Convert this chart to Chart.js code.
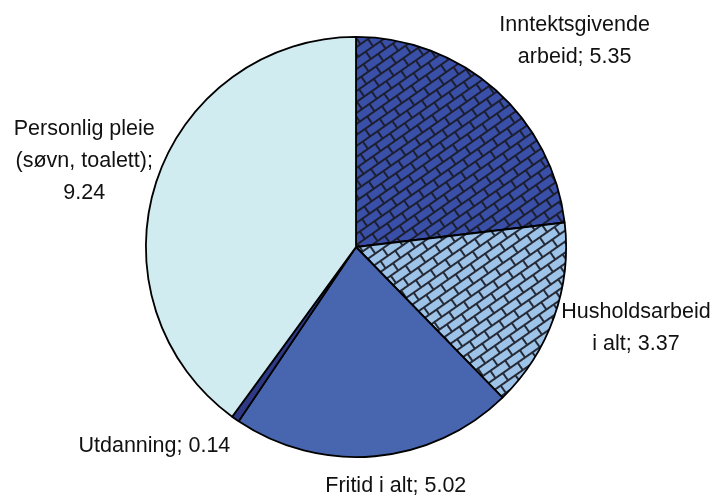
<!DOCTYPE html>
<html>
<head>
<meta charset="utf-8">
<script src="https://cdn.jsdelivr.net/npm/chart.js@4"></script>
<style>
  html, body { margin: 0; padding: 0; background: #ffffff; }
  #wrap { width: 715px; height: 498px; position: relative; }
</style>
</head>
<body>
<div id="wrap"><canvas id="c" width="715" height="498"></canvas></div>
<script>
// ---- data ----
const categories = ['Inntektsgivende\narbeid', 'Husholdsarbeid\ni alt', 'Fritid i alt', 'Utdanning', 'Personlig pleie\n(søvn, toalett)'];
const values = [5.35, 3.37, 5.02, 0.14, 9.24];
const separators = ['; ', '; ', '; ', '; ', ';\n'];

// ---- styles ----
const baseColors = ['#3A50A8', '#9DC4E8', '#4866B0', '#2E3A86', '#D0ECF1'];
const patterned = [true, true, false, false, false];
const labelOffsets = [[79, -49], [82, 11], [21, 30], [-81, 27], [-72, -21]];

function brickPattern(bg) {
  const W = 18, H = 9;
  const t = document.createElement('canvas');
  t.width = W; t.height = 2 * H;
  const g = t.getContext('2d');
  g.fillStyle = bg; g.fillRect(0, 0, W, 2 * H);
  g.strokeStyle = 'rgba(25,25,35,0.9)';
  g.lineWidth = 2;
  g.beginPath();
  g.moveTo(0, 0); g.lineTo(W, 0);
  g.moveTo(0, H); g.lineTo(W, H);
  g.moveTo(0, 2 * H); g.lineTo(W, 2 * H);
  g.moveTo(0, 0); g.lineTo(0, H);
  g.moveTo(W, 0); g.lineTo(W, H);
  g.moveTo(W / 2, H); g.lineTo(W / 2, 2 * H);
  g.stroke();
  const ctx = document.createElement('canvas').getContext('2d');
  const p = ctx.createPattern(t, 'repeat');
  const m = new DOMMatrix();
  m.rotateSelf(-35);
  p.setTransform(m);
  return p;
}

const fills = baseColors.map((c, i) => patterned[i] ? brickPattern(c) : c);

const labelPlugin = {
  id: 'sliceLabels',
  afterDraw(chart) {
    const ctx = chart.ctx;
    const meta = chart.getDatasetMeta(0);
    ctx.save();
    ctx.font = '21.5px "Liberation Sans", Arial, sans-serif';
    ctx.fillStyle = '#111111';
    ctx.textAlign = 'center';
    ctx.textBaseline = 'middle';
    meta.data.forEach((arc, i) => {
      const p = arc.getProps(['x', 'y', 'startAngle', 'endAngle', 'outerRadius'], true);
      const mid = (p.startAngle + p.endAngle) / 2;
      const ax = p.x + Math.cos(mid) * p.outerRadius + labelOffsets[i][0];
      const ay = p.y + Math.sin(mid) * p.outerRadius + labelOffsets[i][1];
      const text = categories[i] + separators[i] + values[i].toFixed(2);
      const lines = text.split('\n');
      const lh = 32;
      const top = ay - (lines.length - 1) * lh / 2;
      lines.forEach((ln, k) => ctx.fillText(ln, ax, top + k * lh));
    });
    ctx.restore();
  }
};

new Chart(document.getElementById('c'), {
  type: 'pie',
  data: {
    labels: categories,
    datasets: [{
      data: values,
      backgroundColor: fills,
      borderColor: '#000000',
      borderWidth: 1.8
    }]
  },
  options: {
    responsive: false,
    animation: false,
    layout: { padding: { left: 145, right: 148, top: 36, bottom: 40 } },
    plugins: { legend: { display: false }, tooltip: { enabled: false } }
  },
  plugins: [labelPlugin]
});
</script>
</body>
</html>
